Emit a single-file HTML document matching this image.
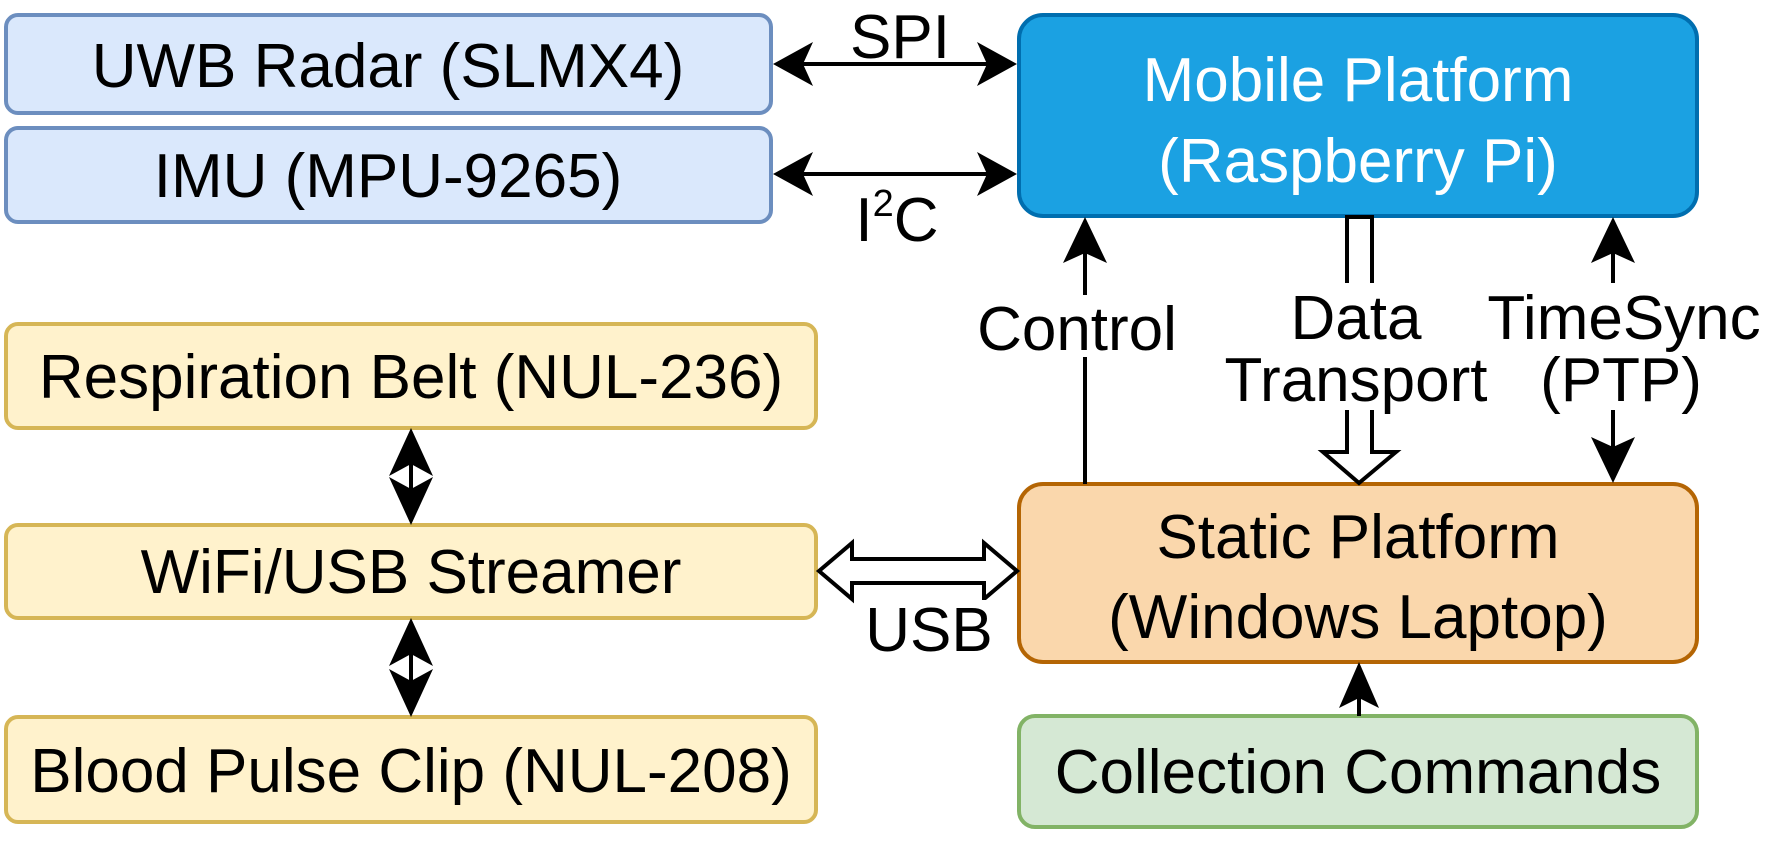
<!DOCTYPE html>
<html><head><meta charset="utf-8"><style>
html,body{margin:0;padding:0;background:#fff;}
svg{display:block;}
text{font-family:"Liberation Sans",Arial,sans-serif;font-size:62px;fill:#000;}
</style></head><body>
<svg width="1765" height="844" viewBox="0 0 1765 844" xmlns="http://www.w3.org/2000/svg">
<!-- boxes -->
<rect x="6" y="15" width="765" height="98" rx="12" fill="#dae8fc" stroke="#6c8ebf" stroke-width="4"/>
<rect x="6" y="128" width="765" height="94" rx="12" fill="#dae8fc" stroke="#6c8ebf" stroke-width="4"/>
<rect x="1019" y="15" width="678" height="201" rx="24" fill="#1ba1e2" stroke="#006eaf" stroke-width="4"/>
<rect x="6" y="324" width="810" height="104" rx="12" fill="#fff2cc" stroke="#d6b656" stroke-width="4"/>
<rect x="6" y="525" width="810" height="93" rx="12" fill="#fff2cc" stroke="#d6b656" stroke-width="4"/>
<rect x="6" y="717" width="810" height="105" rx="12" fill="#fff2cc" stroke="#d6b656" stroke-width="4"/>
<rect x="1019" y="484" width="678" height="178" rx="24" fill="#fad7ac" stroke="#b46504" stroke-width="4"/>
<rect x="1019" y="716" width="678" height="111" rx="16" fill="#d5e8d4" stroke="#82b366" stroke-width="4"/>

<!-- box text -->
<text x="388" y="87" text-anchor="middle">UWB Radar (SLMX4)</text>
<text x="388" y="197" text-anchor="middle">IMU (MPU-9265)</text>
<text x="1358" y="101" text-anchor="middle" style="fill:#fff">Mobile Platform</text>
<text x="1358" y="182" text-anchor="middle" style="fill:#fff">(Raspberry Pi)</text>
<text x="411" y="398" text-anchor="middle">Respiration Belt (NUL-236)</text>
<text x="411" y="593" text-anchor="middle">WiFi/USB Streamer</text>
<text x="411" y="792" text-anchor="middle">Blood Pulse Clip (NUL-208)</text>
<text x="1358" y="558" text-anchor="middle">Static Platform</text>
<text x="1358" y="638" text-anchor="middle">(Windows Laptop)</text>
<text x="1358" y="793" text-anchor="middle">Collection Commands</text>

<!-- SPI arrow -->
<line x1="800" y1="64" x2="990" y2="64" stroke="#000" stroke-width="4"/>
<polygon points="773,64 813,42 803,64 813,86" fill="#000"/>
<polygon points="1017,64 977,42 987,64 977,86" fill="#000"/>
<!-- I2C arrow -->
<line x1="800" y1="174" x2="990" y2="174" stroke="#000" stroke-width="4"/>
<polygon points="773,174 813,152 803,174 813,196" fill="#000"/>
<polygon points="1017,174 977,152 987,174 977,196" fill="#000"/>
<text x="900" y="58" text-anchor="middle">SPI</text>
<text x="897" y="241" text-anchor="middle">I<tspan font-size="38" dy="-25">2</tspan><tspan dy="25">C</tspan></text>

<!-- Control -->
<line x1="1085" y1="484" x2="1085" y2="240" stroke="#000" stroke-width="4"/>
<polygon points="1085,217 1107,263 1085,253 1063,263" fill="#000"/>
<rect x="965" y="295" width="225" height="62" fill="#fff"/>
<text x="1077" y="350" text-anchor="middle">Control</text>

<!-- Data transport hollow arrow -->
<polygon points="1347,217 1372,217 1372,452 1396,452 1359,483 1323,452 1347,452" fill="#fff" stroke="#000" stroke-width="4"/>
<rect x="1222" y="283" width="272" height="127" fill="#fff"/>
<text x="1356" y="339" text-anchor="middle">Data</text>
<text x="1356" y="401" text-anchor="middle">Transport</text>

<!-- TimeSync -->
<line x1="1613" y1="240" x2="1613" y2="460" stroke="#000" stroke-width="4"/>
<polygon points="1613,217 1635,263 1613,253 1591,263" fill="#000"/>
<polygon points="1613,483 1635,437 1613,447 1591,437" fill="#000"/>
<rect x="1490" y="283" width="275" height="127" fill="#fff"/>
<text x="1624" y="339" text-anchor="middle">TimeSync</text>
<text x="1621" y="401" text-anchor="middle">(PTP)</text>

<!-- vertical double arrows left -->
<line x1="411" y1="450" x2="411" y2="503" stroke="#000" stroke-width="4"/>
<polygon points="411,428 433,476 411,464 389,476" fill="#000"/>
<polygon points="411,525 433,477 411,489 389,477" fill="#000"/>
<line x1="411" y1="640" x2="411" y2="695" stroke="#000" stroke-width="4"/>
<polygon points="411,618 433,666 411,654 389,666" fill="#000"/>
<polygon points="411,717 433,669 411,681 389,669" fill="#000"/>

<!-- USB hollow double arrow -->
<polygon points="819,571 852,543 852,559 984,559 984,543 1017,571 984,599 984,583 852,583 852,599" fill="#fff" stroke="#000" stroke-width="4"/>
<rect x="862" y="600" width="135" height="58" fill="#fff"/>
<text x="929" y="651" text-anchor="middle">USB</text>

<!-- Collection -> Static -->
<line x1="1359" y1="716" x2="1359" y2="680" stroke="#000" stroke-width="4"/>
<polygon points="1359,662 1379,708 1359,698 1339,708" fill="#000"/>
</svg>
</body></html>
